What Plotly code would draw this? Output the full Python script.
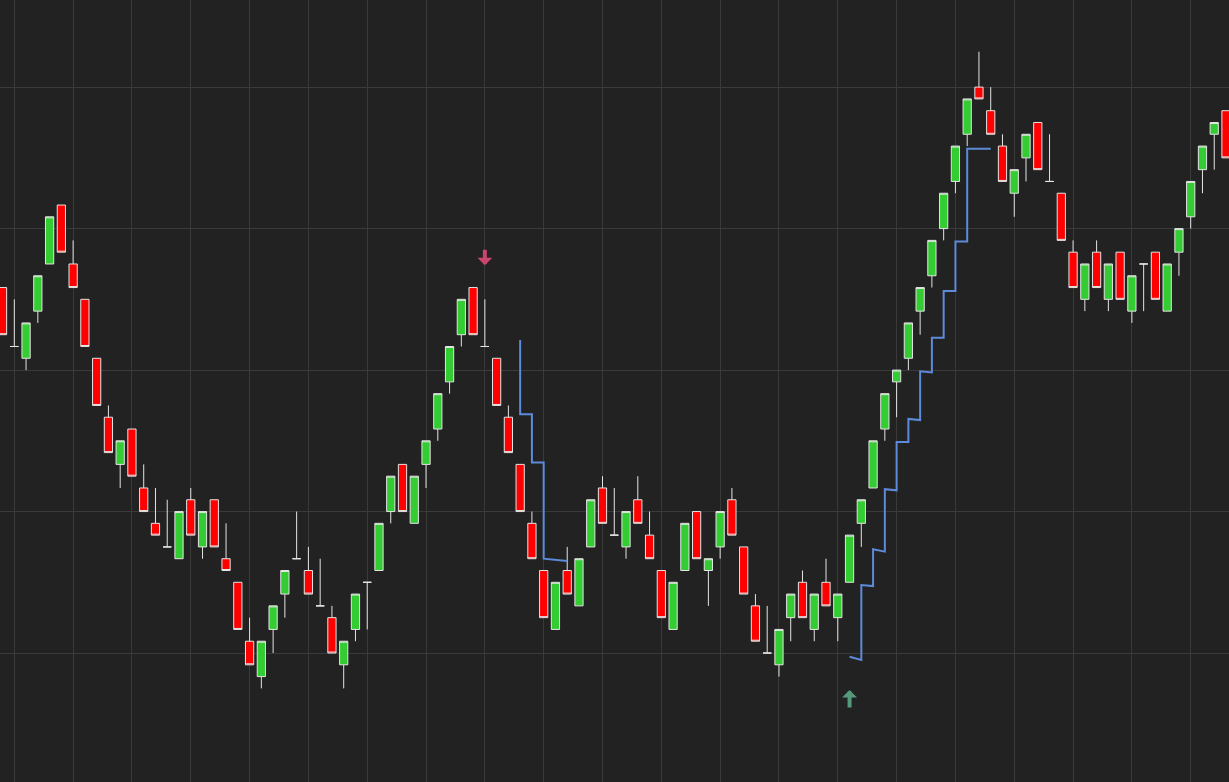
import plotly.graph_objects as go

# ---- data ----
bar_index = list(range(105))

open_ = [131, 126, 125, 129, 133, 138, 133, 130, 125, 120,
         116, 119, 114, 111, 109, 108, 113, 109, 113, 108,
         106, 101, 98, 102, 105, 108, 107, 104, 103, 99,
         102, 106, 107, 112, 116, 111, 116, 119, 123, 127,
         131, 126, 125, 120, 116, 111, 107, 102, 107, 104,
         109, 114, 110, 109, 113, 110, 107, 102, 107, 112,
         107, 109, 113, 109, 104, 100, 99, 103, 106, 102,
         106, 103, 106, 111, 114, 119, 123, 125, 129, 132,
         136, 140, 144, 148, 146, 143, 139, 142, 145, 140,
         139, 134, 130, 134, 130, 134, 129, 133, 134, 129,
         134, 137, 141, 144, 146]

high = [131, 130, 128, 132, 137, 138, 135, 130, 125, 121,
        118, 119, 116, 114, 113, 112, 114, 112, 113, 111,
        106, 103, 101, 104, 107, 112, 109, 108, 104, 101,
        105, 106, 111, 115, 116, 115, 118, 122, 126, 130,
        131, 130, 125, 121, 116, 112, 107, 106, 109, 108,
        113, 115, 114, 112, 115, 112, 107, 106, 111, 112,
        108, 112, 114, 109, 105, 104, 102, 105, 107, 105,
        108, 105, 110, 113, 118, 122, 124, 128, 131, 135,
        139, 143, 147, 151, 148, 144, 141, 144, 145, 144,
        139, 135, 133, 135, 133, 134, 132, 133, 134, 133,
        136, 140, 143, 145, 146]

low = [127, 126, 124, 128, 133, 134, 131, 126, 121, 117,
       114, 115, 112, 110, 109, 108, 110, 108, 109, 107,
       102, 99, 97, 100, 103, 108, 105, 104, 100, 97,
       101, 102, 107, 111, 112, 111, 114, 118, 122, 126,
       127, 126, 121, 117, 112, 108, 103, 102, 105, 104,
       109, 111, 110, 108, 111, 108, 103, 102, 107, 108,
       104, 108, 110, 105, 101, 100, 98, 101, 103, 101,
       104, 101, 106, 109, 114, 118, 120, 124, 127, 131,
       135, 139, 143, 147, 144, 140, 137, 140, 141, 140,
       135, 131, 129, 131, 129, 130, 128, 129, 130, 129,
       132, 136, 139, 141, 142]

close = [127, 126, 128, 132, 137, 134, 131, 126, 121, 117,
         118, 115, 112, 110, 109, 112, 110, 112, 109, 107,
         102, 99, 101, 104, 107, 108, 105, 104, 100, 101,
         105, 106, 111, 115, 112, 115, 118, 122, 126, 130,
         127, 126, 121, 117, 112, 108, 103, 106, 105, 108,
         113, 111, 110, 112, 111, 108, 103, 106, 111, 108,
         108, 112, 110, 105, 101, 100, 102, 105, 103, 105,
         104, 105, 110, 113, 118, 122, 124, 128, 131, 135,
         139, 143, 147, 147, 144, 140, 141, 144, 141, 140,
         135, 131, 133, 131, 133, 130, 132, 133, 130, 133,
         136, 140, 143, 145, 142]

# trailing stop line (short segment after the top, long one after the bottom)
stop_down_x = [44, 44, 45, 45, 46, 46, 48]
stop_down_y = [126.55, 120.25, 120.25, 116.15, 116.15, 108.0, 107.8]

stop_up_x = [72, 73, 73, 74, 74, 75, 75, 76, 76, 77, 77,
             78, 78, 79, 79, 80, 80, 81, 81, 82, 82, 84]
stop_up_y = [99.69, 99.41, 105.77, 105.68, 108.8, 108.6, 113.9, 113.8,
             117.9, 117.9, 119.86, 119.76, 123.9, 123.8, 126.74, 126.74,
             130.7, 130.7, 134.9, 134.9, 142.77, 142.77]

# signal arrows
sell_x, sell_y = 41, 132.9
buy_x, buy_y = 72, 96.86

# ---- figure ----
BG = "#222222"
GRID = "#3a3a3a"

fig = go.Figure()
fig.add_trace(go.Candlestick(
    x=bar_index, open=open_, high=high, low=low, close=close,
    increasing=dict(fillcolor="#33cc33", line=dict(color="#e4e4e4", width=1)),
    decreasing=dict(fillcolor="#ff0000", line=dict(color="#e4e4e4", width=1)),
    whiskerwidth=0, hoverinfo="skip", showlegend=False,
))
fig.add_trace(go.Scatter(
    x=stop_down_x, y=stop_down_y, mode="lines",
    line=dict(color="#5d8ad9", width=2), hoverinfo="skip", showlegend=False,
))
fig.add_trace(go.Scatter(
    x=stop_up_x, y=stop_up_y, mode="lines",
    line=dict(color="#5d8ad9", width=2), hoverinfo="skip", showlegend=False,
))

fig.add_annotation(x=sell_x, y=sell_y, xref="x", yref="y", text="",
                   showarrow=True, ax=0, ay=-17, arrowhead=1, arrowsize=0.62,
                   arrowwidth=4, arrowcolor="#c9456e")
fig.add_annotation(x=buy_x, y=buy_y, xref="x", yref="y", text="",
                   showarrow=True, ax=0, ay=19, arrowhead=1, arrowsize=0.62,
                   arrowwidth=4, arrowcolor="#56997a")

fig.update_layout(
    width=1229, height=782,
    margin=dict(l=0, r=0, t=0, b=0),
    paper_bgcolor=BG, plot_bgcolor=BG,
    showlegend=False,
    boxgap=0.3, boxgroupgap=0,
    xaxis=dict(range=[-0.2156, 104.255], showgrid=True, gridcolor=GRID,
               gridwidth=1, tick0=1, dtick=5, showticklabels=False,
               zeroline=False, rangeslider=dict(visible=False), ticks=""),
    yaxis=dict(range=[89.06, 155.39], showgrid=True, gridcolor=GRID,
               gridwidth=1, tick0=100, dtick=12, showticklabels=False,
               zeroline=False, ticks=""),
)

fig.write_html(
    "out.html",
    config={"displayModeBar": False},
    post_script="document.body.style.margin='0';document.body.style.overflow='hidden';",
)
